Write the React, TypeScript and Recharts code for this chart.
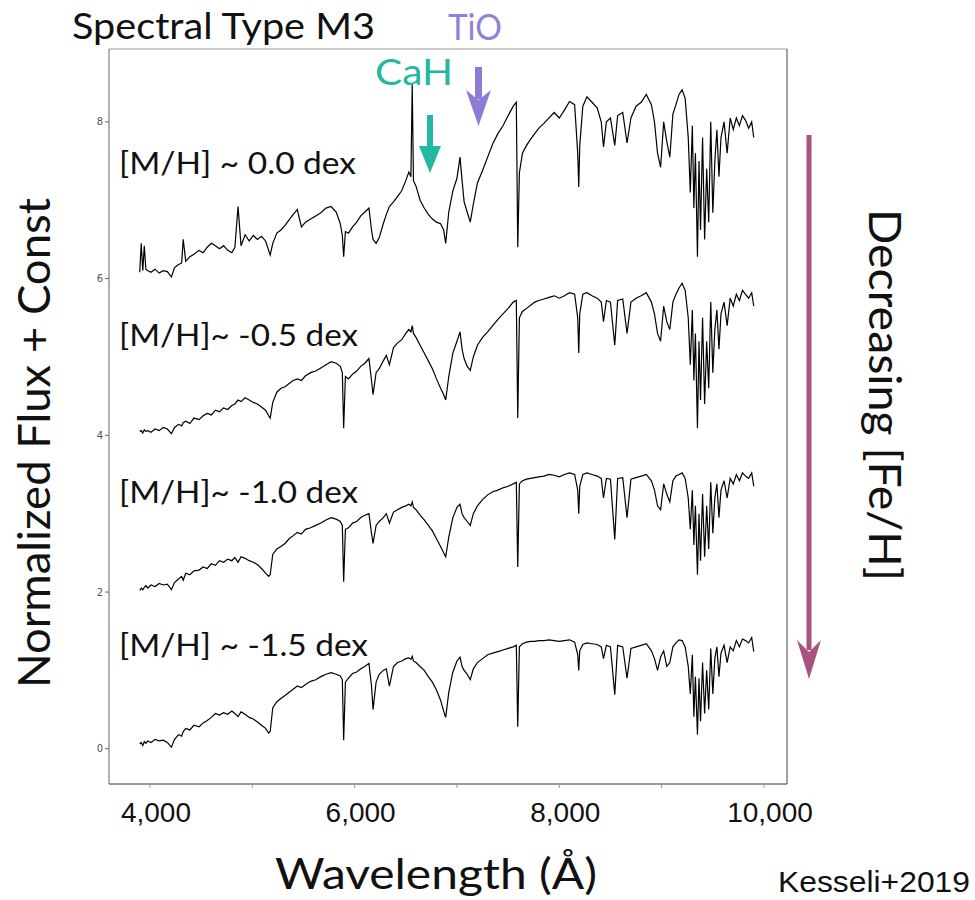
import React from 'react';
import { LineChart, Line, XAxis, YAxis, ReferenceLine } from 'recharts';

// wavelength grid (Angstrom), shared by all four spectra
const wavelengths = [
  3900, 3915, 3930, 3945, 3960, 3980, 4010, 4050, 4090, 4130, 4170, 4210, 4240, 4280, 4310, 4325, 4350, 4390, 4430, 4480,
  4520, 4560, 4600, 4640, 4680, 4720, 4760, 4800, 4830, 4861, 4890, 4930, 4970, 5010, 5050, 5090, 5130, 5160, 5175, 5200,
  5240, 5280, 5320, 5360, 5400, 5440, 5480, 5520, 5570, 5620, 5670, 5720, 5770, 5820, 5860, 5880, 5893, 5910, 5940, 5980,
  6020, 6060, 6100, 6140, 6165, 6180, 6210, 6240, 6280, 6310, 6340, 6380, 6420, 6460, 6500, 6530, 6550, 6563, 6575, 6600,
  6640, 6680, 6720, 6760, 6800, 6840, 6870, 6890, 6920, 6960, 7000, 7030, 7050, 7070, 7100, 7130, 7160, 7200, 7250, 7300,
  7350, 7400, 7450, 7500, 7550, 7580, 7594, 7610, 7640, 7680, 7720, 7760, 7800, 7850, 7900, 7950, 8000, 8050, 8100, 8150,
  8180, 8190, 8200, 8230, 8270, 8320, 8370, 8410, 8432, 8460, 8500, 8542, 8570, 8620, 8662, 8700, 8750, 8800, 8850, 8900,
  8930, 8960, 8990, 9020, 9050, 9080, 9110, 9140, 9170, 9200, 9230, 9260, 9280, 9300, 9315, 9330, 9350, 9365, 9380, 9400,
  9420, 9440, 9460, 9480, 9500, 9520, 9540, 9560, 9580, 9610, 9640, 9670, 9700, 9730, 9760, 9790, 9820, 9850, 9880, 9900,
];

// normalized flux, [M/H] ~ 0.0
const fluxSolar = [
  0.08, 0.45, 0.10, 0.42, 0.12, 0.10, 0.08, 0.12, 0.07, 0.10, 0.09, 0.02, 0.14, 0.18, 0.20, 0.50, 0.22, 0.28, 0.31, 0.36,
  0.33, 0.40, 0.45, 0.42, 0.38, 0.42, 0.36, 0.33, 0.40, 0.92, 0.42, 0.56, 0.48, 0.55, 0.50, 0.54, 0.48, 0.36, 0.30, 0.45,
  0.58, 0.62, 0.68, 0.75, 0.82, 0.88, 0.66, 0.72, 0.76, 0.80, 0.84, 0.90, 0.92, 0.85, 0.70, 0.55, 0.28, 0.60, 0.58, 0.66,
  0.72, 0.80, 0.85, 0.90, 0.62, 0.50, 0.45, 0.52, 0.70, 0.82, 0.92, 0.98, 1.05, 1.12, 1.25, 1.36, 1.30, 2.48, 1.25, 1.18,
  1.00, 0.90, 0.82, 0.76, 0.72, 0.70, 0.62, 0.45, 0.85, 1.12, 1.28, 1.55, 1.25, 0.98, 0.85, 0.72, 0.95, 1.22, 1.38, 1.55,
  1.72, 1.85, 1.95, 2.08, 2.20, 2.25, 0.40, 1.35, 1.60, 1.70, 1.78, 1.85, 1.92, 1.98, 2.05, 2.12, 2.05, 2.15, 2.26, 2.22,
  1.60, 1.17, 1.70, 2.20, 2.32, 2.25, 2.18, 2.00, 1.68, 2.00, 2.05, 1.70, 2.08, 2.12, 1.73, 2.05, 2.20, 2.25, 2.35, 2.22,
  2.00, 1.60, 1.42, 2.00, 1.75, 1.55, 2.10, 2.22, 2.35, 2.41, 2.30, 1.80, 1.10, 1.95, 0.90, 1.60, 0.28, 1.50, 0.62, 1.80,
  0.50, 1.40, 0.72, 2.00, 0.84, 1.50, 1.90, 1.30, 1.80, 2.00, 1.60, 2.05, 1.90, 2.05, 1.95, 2.08, 2.02, 1.92, 2.00, 1.80,
];

// [M/H] ~ -0.5
const fluxMinus05 = [
  0.05, 0.06, 0.03, 0.07, 0.05, 0.06, 0.04, 0.08, 0.06, 0.10, 0.08, 0.02, 0.10, 0.14, 0.12, 0.16, 0.18, 0.15, 0.22, 0.20,
  0.25, 0.28, 0.26, 0.32, 0.30, 0.35, 0.33, 0.38, 0.40, 0.45, 0.43, 0.48, 0.45, 0.42, 0.40, 0.36, 0.32, 0.25, 0.22, 0.42,
  0.55, 0.60, 0.62, 0.66, 0.70, 0.72, 0.70, 0.76, 0.80, 0.82, 0.86, 0.90, 0.94, 0.92, 0.88, 0.80, 0.09, 0.75, 0.72, 0.78,
  0.82, 0.88, 0.92, 0.98, 0.70, 0.52, 0.80, 0.85, 0.95, 1.02, 0.90, 1.12, 1.18, 1.22, 1.30, 1.35, 1.32, 1.40, 1.30, 1.25,
  1.15, 1.05, 0.95, 0.85, 0.72, 0.60, 0.52, 0.45, 0.75, 1.05, 1.20, 1.32, 1.10, 0.98, 0.88, 0.83, 1.00, 1.15, 1.25, 1.32,
  1.40, 1.48, 1.55, 1.62, 1.70, 1.72, 0.22, 1.50, 1.58, 1.62, 1.66, 1.70, 1.72, 1.74, 1.76, 1.78, 1.75, 1.78, 1.82, 1.80,
  1.50, 1.05, 1.55, 1.80, 1.82, 1.78, 1.75, 1.70, 1.45, 1.72, 1.70, 1.15, 1.72, 1.74, 1.30, 1.70, 1.75, 1.78, 1.82, 1.70,
  1.55, 1.30, 1.20, 1.65, 1.45, 1.35, 1.70, 1.80, 1.88, 1.94, 1.85, 1.50, 0.90, 1.60, 0.70, 1.30, 0.09, 1.20, 0.45, 1.50,
  0.40, 1.20, 0.60, 1.70, 0.80, 1.35, 1.60, 1.10, 1.55, 1.70, 1.40, 1.75, 1.65, 1.80, 1.72, 1.85, 1.80, 1.75, 1.82, 1.65,
];

// [M/H] ~ -1.0
const fluxMinus10 = [
  0.02, 0.05, 0.03, 0.06, 0.08, 0.05, 0.09, 0.07, 0.11, 0.09, 0.10, 0.03, 0.12, 0.17, 0.20, 0.15, 0.24, 0.22, 0.27, 0.28,
  0.32, 0.30, 0.36, 0.34, 0.40, 0.38, 0.42, 0.40, 0.44, 0.38, 0.45, 0.43, 0.40, 0.38, 0.35, 0.30, 0.24, 0.20, 0.22, 0.48,
  0.55, 0.58, 0.62, 0.68, 0.72, 0.76, 0.74, 0.80, 0.82, 0.85, 0.88, 0.92, 0.95, 0.93, 0.90, 0.85, 0.13, 0.80, 0.82, 0.88,
  0.90, 0.95, 0.98, 1.00, 0.75, 0.62, 0.85, 0.90, 0.95, 1.00, 0.88, 1.02, 1.05, 1.08, 1.10, 1.12, 1.10, 1.15, 1.08, 1.05,
  0.98, 0.92, 0.85, 0.78, 0.68, 0.58, 0.50, 0.45, 0.70, 0.95, 1.08, 1.12, 1.00, 0.95, 0.90, 0.85, 1.00, 1.10, 1.18, 1.24,
  1.28, 1.30, 1.33, 1.35, 1.38, 1.40, 0.32, 1.38, 1.42, 1.44, 1.45, 1.46, 1.47, 1.48, 1.50, 1.49, 1.47, 1.50, 1.52, 1.50,
  1.30, 1.00, 1.35, 1.50, 1.52, 1.50, 1.48, 1.45, 1.20, 1.45, 1.44, 0.67, 1.45, 1.46, 0.95, 1.44, 1.46, 1.48, 1.50, 1.42,
  1.30, 1.10, 1.05, 1.38, 1.25, 1.15, 1.42, 1.48, 1.50, 1.52, 1.45, 1.20, 0.80, 1.30, 0.60, 1.10, 0.22, 1.00, 0.40, 1.25,
  0.45, 1.10, 0.55, 1.40, 0.75, 1.20, 1.38, 0.95, 1.30, 1.42, 1.20, 1.45, 1.38, 1.50, 1.42, 1.52, 1.48, 1.45, 1.52, 1.35,
];

// [M/H] ~ -1.5
const fluxMinus15 = [
  0.06, 0.08, 0.04, 0.09, 0.07, 0.10, 0.08, 0.12, 0.10, 0.11, 0.08, 0.02, 0.12, 0.18, 0.16, 0.22, 0.26, 0.24, 0.30, 0.28,
  0.33, 0.36, 0.40, 0.45, 0.43, 0.46, 0.44, 0.48, 0.45, 0.41, 0.47, 0.44, 0.40, 0.38, 0.34, 0.30, 0.26, 0.20, 0.22, 0.52,
  0.60, 0.64, 0.68, 0.72, 0.76, 0.80, 0.78, 0.82, 0.86, 0.88, 0.92, 0.95, 0.97, 0.95, 0.93, 0.88, 0.11, 0.85, 0.90, 0.96,
  0.98, 1.02, 1.05, 1.09, 0.80, 0.50, 0.85, 0.95, 1.00, 1.02, 0.80, 1.05, 1.10, 1.12, 1.15, 1.16, 1.14, 1.18, 1.12, 1.10,
  1.05, 1.00, 0.92, 0.85, 0.75, 0.62, 0.48, 0.40, 0.72, 0.98, 1.12, 1.17, 1.05, 1.00, 0.95, 0.88, 1.02, 1.10, 1.15, 1.20,
  1.22, 1.24, 1.26, 1.28, 1.30, 1.32, 0.28, 1.30, 1.34, 1.36, 1.37, 1.37, 1.38, 1.38, 1.39, 1.38, 1.37, 1.38, 1.39, 1.36,
  1.20, 1.00, 1.25, 1.33, 1.35, 1.34, 1.33, 1.30, 1.15, 1.32, 1.30, 0.69, 1.32, 1.30, 0.90, 1.28, 1.30, 1.32, 1.34, 1.25,
  1.15, 1.00, 1.17, 1.25, 1.05, 1.10, 1.30, 1.35, 1.39, 1.38, 1.30, 1.05, 0.70, 1.20, 0.41, 0.92, 0.18, 0.90, 0.35, 1.10,
  0.45, 1.00, 0.50, 1.28, 0.70, 1.15, 1.30, 0.92, 1.22, 1.32, 1.10, 1.30, 1.25, 1.38, 1.30, 1.40, 1.38, 1.35, 1.42, 1.24,
];

const offsets = [6, 4, 2, 0];
const seriesLabels = ['[M/H] ~ 0.0 dex', '[M/H]~ -0.5 dex', '[M/H]~ -1.0 dex', '[M/H] ~ -1.5 dex'];
const xTicks = [4000, 5000, 6000, 7000, 8000, 9000, 10000];
const xTickLabels = [4000, 6000, 8000, 10000];
const yTicks = [0, 2, 4, 6, 8];

const X_MIN = 3600;
const X_MAX = 10225;
const Y_MIN = -0.45;
const Y_MAX = 8.93;

const fluxes = [fluxSolar, fluxMinus05, fluxMinus10, fluxMinus15];
const data = wavelengths.map((wl, i) => {
  const row: Record<string, number> = { wl };
  fluxes.forEach((f, k) => {
    row['s' + k] = f[i] + offsets[k];
  });
  return row;
});

const fmt = (v: number) => String(v).replace(/\B(?=(\d{3})+(?!\d))/g, ',');

const XTick = (props: any) => {
  const { x, y, payload } = props;
  if (!xTickLabels.includes(payload.value)) return <g />;
  return (
    <text x={x + 6} y={y + 32} textAnchor="middle" fontSize={28} fontFamily="Liberation Sans" fill="#111">
      {fmt(payload.value)}
    </text>
  );
};

const font = 'Lato, "Open Sans", sans-serif';
const labelBaselines = [174, 346, 503, 656];
const labelWidths = [237, 239, 239, 249];

export default function App() {
  return (
    <div style={{ position: 'absolute', left: 0, top: 0, width: 975, height: 900, background: '#fff' }}>
      <LineChart width={975} height={900} data={data} margin={{ top: 49, right: 188, bottom: 0, left: 0 }}>
        <XAxis
          type="number"
          dataKey="wl"
          domain={[X_MIN, X_MAX]}
          ticks={xTicks}
          interval={0}
          height={116}
          tickSize={4}
          axisLine={{ stroke: '#333' }}
          tickLine={{ stroke: '#999' }}
          tick={<XTick />}
        />
        <YAxis
          type="number"
          domain={[Y_MIN, Y_MAX]}
          ticks={yTicks}
          interval={0}
          width={109}
          tickSize={4}
          axisLine={{ stroke: '#666' }}
          tickLine={{ stroke: '#666' }}
          tick={{ fontSize: 10, fill: '#555', fontFamily: 'DejaVu Sans' }}
        />
        <ReferenceLine y={Y_MAX} stroke="#999" />
        <ReferenceLine x={X_MAX} stroke="#444" />
        {offsets.map((_, k) => (
          <Line
            key={k}
            type="linear"
            dataKey={'s' + k}
            stroke="#000"
            strokeWidth={1.2}
            dot={false}
            isAnimationActive={false}
          />
        ))}
      </LineChart>
      <svg width={975} height={900} style={{ position: 'absolute', left: 0, top: 0, pointerEvents: 'none' }}>
        <g fontFamily={font}>
          <text x={72} y={39} fontSize={36} textLength={303} lengthAdjust="spacingAndGlyphs" fill="#111">
            Spectral Type M3
          </text>
          <text x={448} y={40} fontSize={37} textLength={54} lengthAdjust="spacingAndGlyphs" fill="#9380d8">
            TiO
          </text>
          <text x={375} y={85} fontSize={37} textLength={78} lengthAdjust="spacingAndGlyphs" fill="#22b8a2">
            CaH
          </text>
          {/* CaH arrow */}
          <rect x={427} y={115} width={6} height={37} fill="#22b8a2" />
          <polygon points="419,146 441,146 430,173" fill="#22b8a2" />
          {/* TiO arrow */}
          <rect x={475} y={67} width={7} height={32} fill="#8f7bd6" />
          <polygon points="466,90 478.5,100 491,90 478.5,126" fill="#8f7bd6" />
          {/* metallicity arrow */}
          <rect x={806.5} y={135} width={5} height={515} fill="#a8527f" />
          <polygon points="797,640 809,652 821,640 809,679" fill="#a8527f" />

          {seriesLabels.map((s, k) => (
            <text
              key={s}
              x={119}
              y={labelBaselines[k]}
              fontSize={30}
              textLength={labelWidths[k]}
              lengthAdjust="spacingAndGlyphs"
              fill="#111"
            >
              {s}
            </text>
          ))}

          <text
            transform="translate(50, 443) rotate(-90)"
            textAnchor="middle"
            fontSize={44}
            textLength={490}
            lengthAdjust="spacingAndGlyphs"
            fill="#111"
          >
            Normalized Flux + Const
          </text>
          <text
            transform="translate(869, 395) rotate(90)"
            textAnchor="middle"
            fontSize={44}
            textLength={372}
            lengthAdjust="spacingAndGlyphs"
            fill="#111"
          >
            Decreasing [Fe/H]
          </text>
          <text x={436} y={889} textAnchor="middle" fontSize={42} textLength={322} lengthAdjust="spacingAndGlyphs" fill="#111">
            Wavelength (Å)
          </text>
        </g>
        <text x={778} y={892} fontSize={30} fontFamily="Liberation Sans" textLength={192} lengthAdjust="spacingAndGlyphs" fill="#111">
          Kesseli+2019
        </text>
      </svg>
    </div>
  );
}
